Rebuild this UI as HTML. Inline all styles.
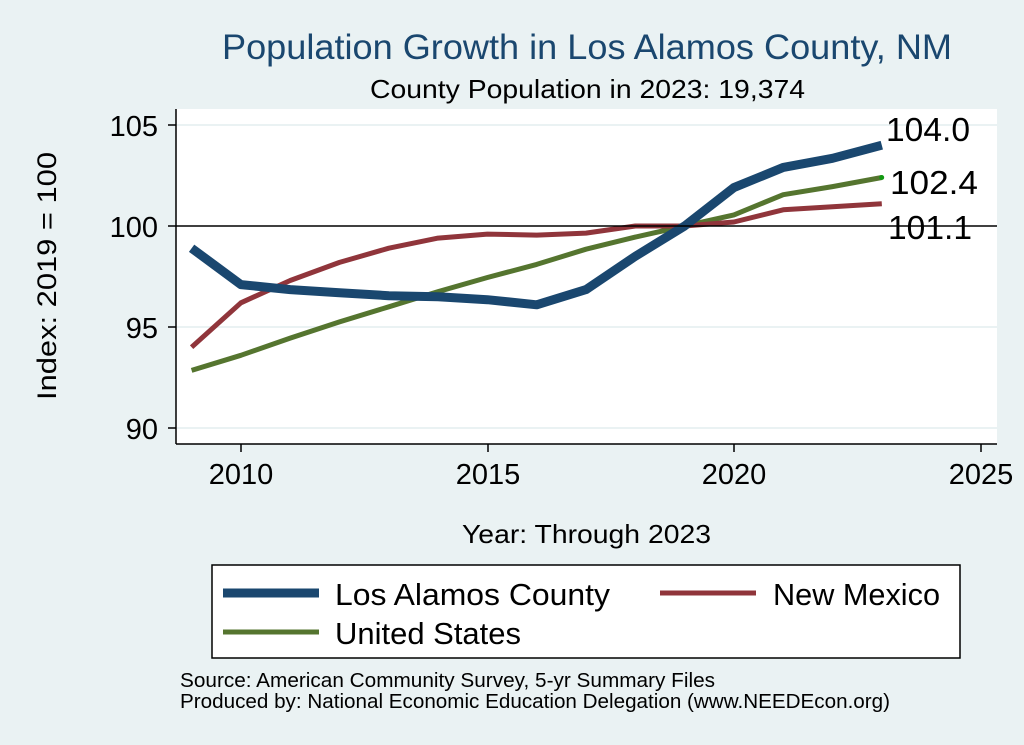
<!DOCTYPE html>
<html><head><meta charset="utf-8"><style>
html,body{margin:0;padding:0;background:#eaf2f3;}
svg{display:block;font-family:"Liberation Sans",Arial,sans-serif;}
</style></head><body>
<svg width="1024" height="745" viewBox="0 0 1024 745" xmlns="http://www.w3.org/2000/svg">
<rect width="1024" height="745" fill="#eaf2f3"/>
<text x="222" y="59" font-size="35" fill="#1a476f" textLength="730" lengthAdjust="spacingAndGlyphs">Population Growth in Los Alamos County, NM</text>
<text x="370" y="98" font-size="26" fill="#000" textLength="435" lengthAdjust="spacingAndGlyphs">County Population in 2023: 19,374</text>
<rect x="176" y="109" width="821" height="335" fill="#fff"/>
<g stroke="#eaf2f3" stroke-width="2">
<line x1="176" y1="125" x2="997" y2="125"/><line x1="176" y1="327" x2="997" y2="327"/><line x1="176" y1="428" x2="997" y2="428"/>
</g>
<g stroke="#000" stroke-width="1.5">
<line x1="176" y1="109" x2="176" y2="444"/><line x1="176" y1="444" x2="997" y2="444"/>
<line x1="168" y1="125" x2="176" y2="125"/><line x1="168" y1="226" x2="176" y2="226"/><line x1="168" y1="327" x2="176" y2="327"/><line x1="168" y1="428" x2="176" y2="428"/>
<line x1="241" y1="444" x2="241" y2="452"/><line x1="488" y1="444" x2="488" y2="452"/><line x1="734" y1="444" x2="734" y2="452"/><line x1="981" y1="444" x2="981" y2="452"/>
</g>
<g font-size="29" text-anchor="end" fill="#000">
<text x="158" y="136">105</text><text x="158" y="237">100</text><text x="158" y="338">95</text><text x="158" y="439">90</text>
</g>
<g font-size="29" text-anchor="middle" fill="#000">
<text x="241" y="484">2010</text><text x="488" y="484">2015</text><text x="734" y="484">2020</text><text x="981" y="484">2025</text>
</g>
<text x="462" y="543" font-size="26" textLength="249" lengthAdjust="spacingAndGlyphs">Year: Through 2023</text>
<text transform="translate(56,400) rotate(-90)" font-size="27" textLength="248" lengthAdjust="spacingAndGlyphs">Index: 2019 = 100</text>
<g id="lines" fill="none" stroke-linejoin="round"></g>
<circle cx="881.7" cy="177.5" r="2.5" fill="#119911"/>
<g font-size="33" fill="#000">
<text x="886" y="141" textLength="84" lengthAdjust="spacingAndGlyphs">104.0</text>
<text x="890" y="194" textLength="88" lengthAdjust="spacingAndGlyphs">102.4</text>
<text x="888" y="239" textLength="84" lengthAdjust="spacingAndGlyphs">101.1</text>
</g>
<line x1="176" y1="226" x2="997" y2="226" stroke="#000" stroke-width="1.5"/>
<rect x="212" y="565" width="748" height="93" fill="#fff" stroke="#000" stroke-width="1.5"/>
<line x1="223" y1="593" x2="319" y2="593" stroke="#1a476f" stroke-width="9"/>
<line x1="660" y1="593" x2="756" y2="593" stroke="#90353b" stroke-width="5"/>
<line x1="223" y1="632" x2="319" y2="632" stroke="#55752f" stroke-width="5"/>
<g font-size="31">
<text x="335" y="605" textLength="275" lengthAdjust="spacingAndGlyphs">Los Alamos  County</text>
<text x="773" y="605" textLength="167" lengthAdjust="spacingAndGlyphs">New Mexico</text>
<text x="335" y="644" textLength="186" lengthAdjust="spacingAndGlyphs">United States</text>
</g>
<g font-size="20">
<text x="180" y="687" textLength="535" lengthAdjust="spacingAndGlyphs">Source: American Community Survey, 5-yr Summary Files</text>
<text x="180" y="708" textLength="710" lengthAdjust="spacingAndGlyphs">Produced by: National Economic Education Delegation (www.NEEDEcon.org)</text>
</g>
</svg>
<script>
var X=function(y){return 191.6+(y-2009)*49.3},Y=function(v){return 226-(v-100)*20.2};
var d=[["#55752f",5,[92.85,93.6,94.45,95.25,96.0,96.75,97.45,98.1,98.85,99.45,100,100.55,101.55,101.95,102.4]],
["#90353b",5,[94.0,96.2,97.3,98.2,98.9,99.4,99.6,99.55,99.65,100,100,100.2,100.8,100.95,101.1]],
["#1a476f",9,[98.9,97.1,96.85,96.7,96.55,96.5,96.35,96.1,96.85,98.5,100,101.9,102.9,103.35,104.0]]];
var g=document.getElementById("lines"),ns="http://www.w3.org/2000/svg";
d.forEach(function(s){var p=document.createElementNS(ns,"polyline");
p.setAttribute("points",s[2].map(function(v,i){return X(2009+i).toFixed(1)+","+Y(v).toFixed(1)}).join(" "));
p.setAttribute("stroke",s[0]);p.setAttribute("stroke-width",s[1]);g.appendChild(p);});
</script>
</body></html>
